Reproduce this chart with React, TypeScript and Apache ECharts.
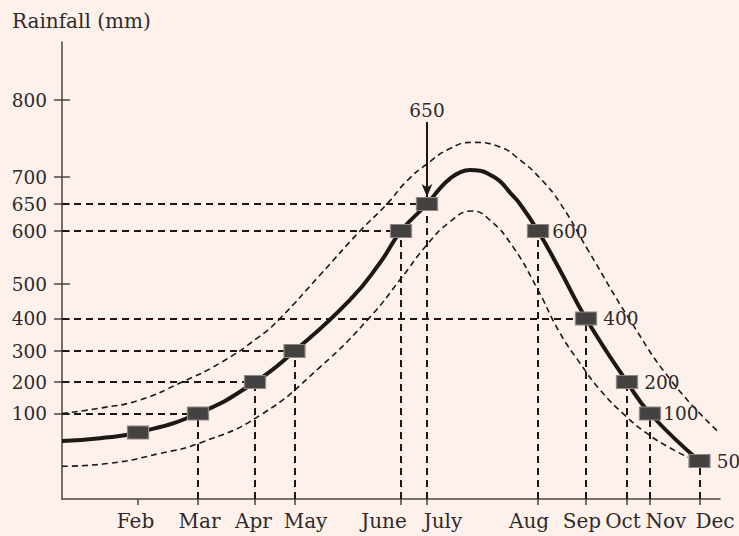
import React, { useEffect, useRef } from "react";
import * as echarts from "echarts";

// ---- data ----
const months = ["Feb", "Mar", "Apr", "May", "June", "July", "Aug", "Sep", "Oct", "Nov", "Dec"];
// schematic position of each month on the horizontal axis (axis units)
const monthAxisPos = [76, 136, 193, 232.5, 339, 365, 476, 524, 565, 588, 637.5];
// where each month's name sits along the axis (axis units)
const monthLabelPos = [73.5, 137.5, 191.5, 243.5, 322, 381, 467, 520, 561, 604, 653];
const rainfall = [80, 100, 200, 300, 600, 650, 600, 400, 200, 100, 50];
const labelledMonths = ["Aug", "Sep", "Oct", "Nov", "Dec"];
const calloutMonth = "July";
const yTicks = [100, 200, 300, 400, 500, 600, 650, 700, 800];
const guideTicks = [100, 200, 300, 400, 600, 650];
const dropMonths = ["Mar", "Apr", "May", "June", "July", "Aug", "Sep", "Oct", "Nov", "Dec"];
// non-linear (schematic) rainfall scale: value -> axis units
const yScaleValues = [0, 50, 100, 200, 300, 400, 500, 600, 650, 700, 800, 900];
const yScaleUnits = [0, 38, 85.5, 117, 148, 180.5, 215, 268, 295, 322, 399, 476];
// extra points shaping the main curve between the months: [axis pos, rainfall]
const mainCurveGuide = [
  [0, 71], [38, 74], [288, 454], [318, 540],
  [378, 679], [388, 697], [398, 706], [408, 709], [418, 708], [428, 703],
  [438, 692], [448, 671], [458, 650], [498, 526],
];
const upperCurve = [
  [0, 100], [38, 117], [78, 143], [118, 197], [158, 261], [198, 346], [218, 400],
  [258, 517], [298, 600], [325, 650], [345, 693], [365, 717], [388, 737], [410, 745],
  [438, 739], [458, 722], [478, 698], [498, 652], [526, 564], [568, 395], [611, 197], [657, 80],
];
const lowerCurve = [
  [0, 43], [48, 47], [98, 58], [138, 69], [198, 98], [258, 248], [308, 404],
  [338, 508], [365, 574], [388, 617], [410, 637], [428, 620], [451, 570], [475, 488],
  [498, 355], [518, 261], [538, 175], [563, 98], [585, 79], [606, 65], [626, 54],
];

const FONT = "DejaVu Serif";
const INK = "#1d1816";
const TEXT = "#2e2a28";

function toUnit(v: number): number {
  for (let i = 0; i < yScaleValues.length - 1; i++) {
    const a = yScaleValues[i], b = yScaleValues[i + 1];
    if (v <= b || i === yScaleValues.length - 2) {
      const t = (v - a) / (b - a);
      return yScaleUnits[i] + t * (yScaleUnits[i + 1] - yScaleUnits[i]);
    }
  }
  return 0;
}

function nearest(list: number[], val: number): number {
  let best = 0, bd = Infinity;
  list.forEach((u, i) => {
    const d = Math.abs(u - val);
    if (d < bd) { bd = d; best = i; }
  });
  return best;
}

const X_MAX = 658;
const Y_MAX = 457;

export default function App() {
  const ref = useRef<HTMLDivElement>(null);
  useEffect(() => {
    if (!ref.current) return;
    const chart = echarts.init(ref.current, null, { renderer: "svg" });

    const tickUnits = yTicks.map(toUnit);
    const yLabel = (val: number) => String(yTicks[nearest(tickUnits, val)]);
    const xLabel = (val: number) => months[nearest(monthLabelPos, val)];

    const mainCurve = [
      ...monthAxisPos.map((p, i) => [p, rainfall[i]]),
      ...mainCurveGuide,
    ].sort((a, b) => a[0] - b[0]).map(([x, v]) => [x, toUnit(v)]);

    const guides = guideTicks.map((v) => {
      const i = rainfall.indexOf(v);
      return [{ coord: [0, toUnit(v)] }, { coord: [monthAxisPos[i], toUnit(v)] }];
    });
    const drops = dropMonths.map((m) => {
      const i = months.indexOf(m);
      return [{ coord: [monthAxisPos[i], 0] }, { coord: [monthAxisPos[i], toUnit(rainfall[i])] }];
    });
    const ci = months.indexOf(calloutMonth);
    const cTop = toUnit(rainfall[ci]);

    const labelGap: Record<string, number> = { Aug: 3, Sep: 6, Oct: 6, Nov: 2, Dec: 6 };

    const markers = monthAxisPos.map((p, i) => ({
      value: [p, toUnit(rainfall[i])],
      label: {
        show: labelledMonths.includes(months[i]),
        distance: labelGap[months[i]] ?? 5,
      },
    }));

    const numStyle = { fontFamily: FONT, fontSize: 18.5, color: TEXT };
    const wordStyle = { fontFamily: FONT, fontSize: 20, color: TEXT };

    chart.setOption({
      animation: false,
      backgroundColor: "#fef1ec",
      grid: { left: 62, right: 19, top: 42, bottom: 37, containLabel: false, outerBoundsMode: "none" },
      graphic: [
        {
          type: "text",
          x: 12,
          y: 21,
          style: {
            text: "Rainfall (mm)",
            fontFamily: FONT,
            fontSize: 20,
            fill: TEXT,
            verticalAlign: "middle",
          },
        },
      ],
      xAxis: {
        type: "value",
        min: 0,
        max: X_MAX,
        splitLine: { show: false },
        axisLine: { show: true, lineStyle: { color: "#4a4644", width: 1.5 } },
        axisTick: { show: true, length: 6, customValues: monthAxisPos, lineStyle: { color: "#4a4644", width: 1.5 } },
        axisLabel: { customValues: monthLabelPos, formatter: xLabel, margin: 12, ...wordStyle },
      },
      yAxis: [
        {
          type: "value",
          min: 0,
          max: Y_MAX,
          splitLine: { show: false },
          axisLine: { show: true, lineStyle: { color: "#4a4644", width: 1.5 } },
          axisTick: { show: true, length: 8, customValues: tickUnits, lineStyle: { color: "#4a4644", width: 1.5 } },
          axisLabel: { customValues: tickUnits, formatter: yLabel, margin: 15, ...numStyle },
        },
        {
          type: "value",
          min: 0,
          max: Y_MAX,
          position: "left",
          splitLine: { show: false },
          axisLine: { show: false },
          axisTick: { show: true, inside: true, length: 8, customValues: tickUnits, lineStyle: { color: "#4a4644", width: 1.5 } },
          axisLabel: { show: false },
        },
      ],
      series: [
        {
          type: "line",
          name: "guides",
          data: [],
          z: 1,
          markLine: {
            silent: true,
            symbol: ["none", "none"],
            label: { show: false },
            lineStyle: { type: [7, 5], width: 2, color: INK },
            data: [...guides, ...drops],
          },
        },
        {
          type: "line",
          name: "upper",
          data: upperCurve.map(([x, v]) => [x, toUnit(v)]),
          smooth: 0.5,
          showSymbol: false,
          z: 2,
          lineStyle: { type: [6, 4], width: 1.6, color: INK },
        },
        {
          type: "line",
          name: "lower",
          data: lowerCurve.map(([x, v]) => [x, toUnit(v)]),
          smooth: 0.5,
          showSymbol: false,
          z: 2,
          lineStyle: { type: [6, 4], width: 1.6, color: INK },
        },
        {
          type: "line",
          name: "rainfall",
          data: mainCurve,
          smooth: 0.5,
          showSymbol: false,
          z: 3,
          lineStyle: { width: 4, color: INK },
        },
        {
          type: "line",
          name: "callout",
          data: [],
          z: 4,
          markLine: {
            silent: true,
            symbol: ["none", "arrow"],
            symbolSize: [8, 13],
            lineStyle: { type: "solid", width: 2, color: INK },
            label: {
              show: true,
              position: "start",
              formatter: String(rainfall[ci]),
              distance: 2,
              ...numStyle,
            },
            data: [[{ coord: [monthAxisPos[ci], cTop + 82] }, { coord: [monthAxisPos[ci], cTop + 7] }]],
          },
        },
        {
          type: "scatter",
          name: "months",
          data: markers,
          symbol: "rect",
          symbolSize: [21, 13],
          z: 5,
          itemStyle: { color: "#444141", borderColor: "#8f8683", borderWidth: 1, opacity: 1 },
          label: {
            position: "right",
            formatter: (p: any) => String(rainfall[p.dataIndex]),
            ...numStyle,
          },
        },
      ],
    });
    return () => chart.dispose();
  }, []);

  return (
    <div
      ref={ref}
      style={{ position: "fixed", left: 0, top: 0, width: 739, height: 536 }}
    />
  );
}
